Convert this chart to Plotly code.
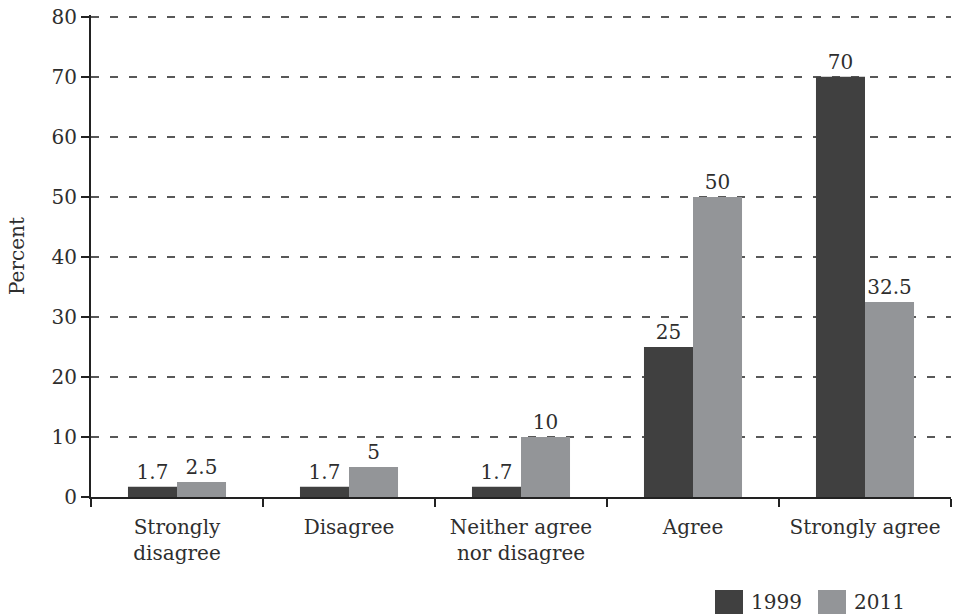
import plotly.graph_objects as go

categories = ["Strongly<br>disagree", "Disagree", "Neither agree<br>nor disagree", "Agree", "Strongly agree"]
series_names = ["1999", "2011"]
values_1999 = [1.7, 1.7, 1.7, 25, 70]
values_2011 = [2.5, 5, 10, 50, 32.5]
y_ticks = [0, 10, 20, 30, 40, 50, 60, 70, 80]

colors = ["#404040", "#939598"]
FONT = "DejaVu Serif"
FS = 20
TXT = "#2e2e2e"
W, H = 957, 615
L, R, T, B = 91, 6, 15, 118

fig = go.Figure()
for name, vals, col in zip(series_names, [values_1999, values_2011], colors):
    fig.add_trace(go.Bar(
        x=categories, y=vals, name=name, marker=dict(color=col, line=dict(width=0)),
        text=[f"{v:g}" for v in vals], textposition="outside",
        textfont=dict(family=FONT, size=FS, color=TXT), cliponaxis=False,
        showlegend=False, hoverinfo="skip",
    ))

# legend drawn as shapes + text (bottom right)
pw, ph = W - L - R, H - T - B
leg = [(715, 743, 749, "1999", colors[0]), (818, 846, 852, "2011", colors[1])]
for x0, x1, xt, txt, col in leg:
    fig.add_shape(type="rect", xref="paper", yref="paper",
                  x0=(x0 - L) / pw, x1=(x1 - L) / pw,
                  y0=-(590 - (H - B)) / ph, y1=-(614 - (H - B)) / ph,
                  fillcolor=col, line=dict(width=0))
    fig.add_annotation(xref="paper", yref="paper", x=(xt - L) / pw,
                       y=-(602 - (H - B)) / ph, text=txt, showarrow=False,
                       xanchor="left", yanchor="middle",
                       font=dict(family=FONT, size=FS, color=TXT))

fig.update_layout(
    width=W, height=H, margin=dict(l=L, r=R, t=T, b=B),
    barmode="group", bargap=0.43, bargroupgap=0,
    plot_bgcolor="white", paper_bgcolor="white",
    font=dict(family=FONT, size=FS, color=TXT),
    showlegend=False,
)
fig.update_yaxes(
    range=[0, 80.3], tickvals=y_ticks, showgrid=True, gridcolor="#585858",
    griddash="8px,11px", gridwidth=1.5, showline=True, linecolor="#222", linewidth=2,
    ticks="outside", ticklen=8, tickcolor="#222", tickwidth=2, zeroline=False,
    title=dict(text="Percent", font=dict(family=FONT, size=FS), standoff=22),
)
fig.update_xaxes(
    showline=True, linecolor="#222", linewidth=2, ticks="outside", tickson="boundaries",
    ticklen=8, tickcolor="#222", tickwidth=2, showgrid=False, ticklabelstandoff=11,
)
fig.write_html("out.html", config={"displayModeBar": False},
               post_script="document.body.style.margin='0';")
